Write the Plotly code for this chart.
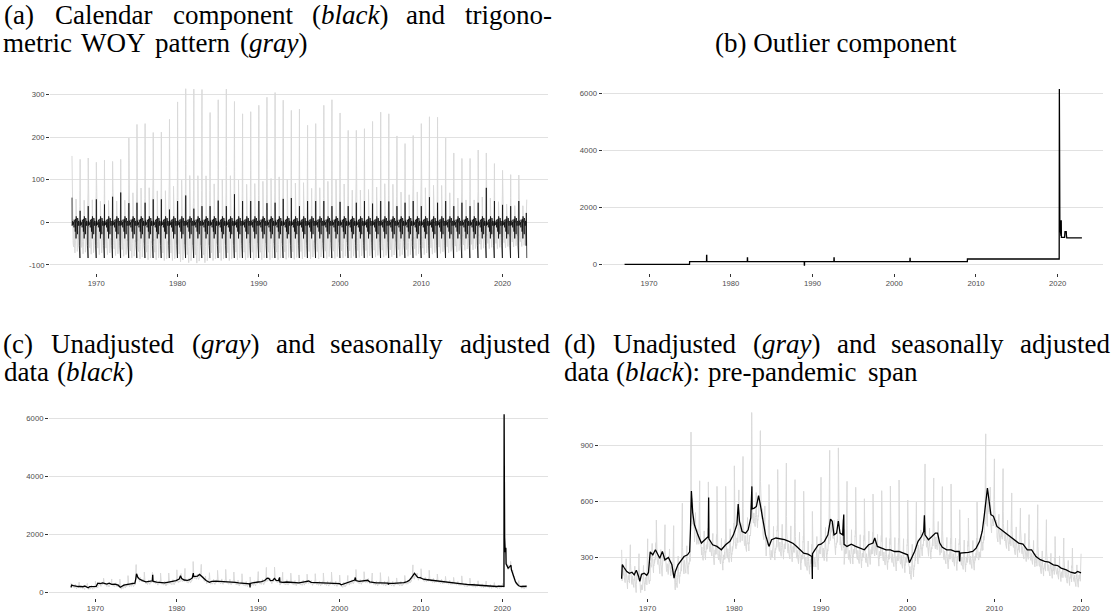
import numpy as np
import plotly.graph_objects as go

W, H = 1115, 613

# ---------------- data ----------------
years = list(range(1967, 2023))

# (a) peak (first week of January) of the trigonometric WOY pattern, per year
woy_peak = [156, 148, 151, 141, 146, 143, 148, 198, 230, 232, 211, 212, 242, 283,
            314, 313, 312, 258, 288, 313, 284, 255, 260, 275, 294, 305, 287, 263,
            266, 228, 232, 275, 288, 257, 216, 216, 220, 237, 259, 255, 203, 185,
            204, 232, 248, 247, 198, 163, 150, 150, 170, 163, 138, 122, 112, 111]
# (a) deepest value of the WOY pattern, per year
woy_trough = [-72, -74, -75, -76, -76, -78, -80, -84, -86, -88, -88, -90, -90, -93,
              -95, -96, -95, -90, -90, -90, -88, -88, -88, -88, -88, -88, -87, -87,
              -86, -86, -86, -85, -85, -84, -84, -83, -83, -82, -82, -81, -80, -80,
              -78, -76, -75, -73, -72, -70, -66, -65, -64, -62, -62, -60, -58, -57]
# (a) typical within-year shape of the WOY pattern (week 1..52, peak = 1, trough = -1)
woy_shape = [1.0, 0.42, 0.12, -0.15, -0.35, -0.5, -0.45, -0.6, -0.7, -0.75, -0.8, -0.72,
             -0.55, -0.1, -0.35, -0.6, -0.75, -0.85, -0.95, -1.0, -0.92, -0.8, -0.6, -0.5,
             -0.4, -0.1, 0.35, 0.22, -0.15, -0.45, -0.62, -0.72, -0.8, -0.88, -0.95, -0.9,
             -0.82, -0.78, -0.7, -0.5, -0.3, -0.5, -0.55, -0.45, -0.35, -0.22, -0.12, 0.02,
             0.08, 0.14, 0.24, 0.48]
# (a) calendar component: New-Year week value per year
cal_jan = [58, 27, 38, 54, 42, 60, 70, 45, 46, 46, 54, 54, 30, 50, 63, 32, 38, 38, 51,
           38, 66, 50, 50, 50, 45, 46, 55, 57, 38, 50, 50, 50, 38, 48, 38, 46, 50, 44,
           50, 49, 38, 46, 50, 38, 59, 46, 50, 38, 46, 38, 46, 81, 50, 41, 38, 50]
# (a) calendar component: other weeks (holiday weeks), week 1 slot unused
cal_week = [0, -8, 4, 0, 0, 3, 0, -6, 0, 0, 0, 0, 0, -12, 6, 0, 0, 0, 0, 0, 0, -22, 8,
            0, 0, 0, -38, 14, 0, 0, 0, 0, 0, 0, 0, -28, 10, 0, 0, 0, 0, -8, 3, 0, 0, -6,
            0, -55, 22, 0, 5, -84]

# (c)/(d) unadjusted claims in the first week of January (thousands)
nsa_jan = [341, 368, 320, 400, 500, 475, 470, 590, 970, 710, 704, 680, 680, 790, 840,
           1075, 978, 690, 770, 805, 716, 654, 546, 729, 873, 886, 707, 675, 614, 639,
           657, 682, 714, 607, 596, 800, 725, 679, 693, 555, 511, 596, 961, 827, 775,
           645, 564, 529, 582, 502, 412, 404, 350, 320, 1080, 420]

# (c)/(d) seasonally adjusted claims (thousands): time, value
sa_time = [1967.0, 1967.08, 1967.3, 1967.6, 1967.9, 1968.2, 1968.45, 1968.7, 1968.95, 1969.1,
           1969.3, 1969.6, 1969.9, 1970.1, 1970.3, 1970.6, 1970.9, 1971.1, 1971.4, 1971.7,
           1972.0, 1972.4, 1972.8, 1973.05, 1973.2, 1973.5, 1973.8, 1974.2, 1974.6, 1974.85,
           1974.95, 1975.05, 1975.2, 1975.4, 1975.8, 1976.2, 1976.6, 1977.0, 1977.04, 1977.07,
           1977.5, 1978.0, 1978.5, 1979.0, 1979.5, 1979.9, 1980.3, 1980.45, 1980.6, 1980.9,
           1981.3, 1981.6, 1981.9, 1982.03, 1982.06, 1982.3, 1982.55, 1982.8, 1983.0, 1983.3,
           1983.6, 1984.0, 1984.3, 1984.8, 1985.3, 1985.8, 1986.3, 1986.8, 1987.2, 1987.6,
           1988.0, 1988.5, 1988.95, 1989.0, 1989.02, 1989.3, 1989.7, 1990.0, 1990.4, 1990.8,
           1991.1, 1991.3, 1991.5, 1991.8, 1992.0, 1992.2, 1992.5, 1992.63, 1992.66, 1993.0,
           1993.5, 1994.0, 1994.5, 1995.0, 1995.5, 1996.0, 1996.2, 1996.5, 1997.0, 1997.5,
           1998.0, 1998.5, 1999.0, 1999.5, 2000.0, 2000.2, 2000.5, 2000.8, 2001.2, 2001.6,
           2001.85, 2001.93, 2002.0, 2002.4, 2002.8, 2003.2, 2003.45, 2003.7, 2004.0, 2004.5,
           2005.0, 2005.5, 2005.95, 2006.0, 2006.05, 2006.6, 2007.0, 2007.5, 2007.9, 2008.3,
           2008.6, 2008.85, 2009.2, 2009.35, 2009.6, 2009.9, 2010.3, 2010.8, 2011.3, 2011.8,
           2012.3, 2012.8, 2013.3, 2013.8, 2014.3, 2014.8, 2015.3, 2015.8, 2016.3, 2016.8,
           2017.3, 2017.7, 2018.3, 2018.8, 2019.3, 2019.6, 2020.0, 2020.19, 2020.21, 2020.23,
           2020.27, 2020.35, 2020.42, 2020.45, 2020.7, 2020.9, 2021.05, 2021.1, 2021.3, 2021.45,
           2021.6, 2021.8, 2022.0, 2022.3, 2022.6, 2022.97]
sa_value = [186, 262, 245, 225, 215, 221, 207, 232, 200, 172,
            210, 216, 205, 220, 330, 314, 341, 323, 296, 332,
            287, 300, 261, 190, 225, 261, 279, 305, 314, 330,
            457, 655, 540, 475, 421, 377, 395, 412, 621, 400,
            368, 359, 341, 368, 386, 421, 475, 585, 493, 439,
            430, 448, 511, 680, 560, 564, 573, 630, 582, 493,
            421, 359, 395, 404, 400, 395, 386, 375, 359, 341,
            323, 318, 305, 185, 320, 341, 368, 371, 386, 421,
            505, 493, 421, 430, 495, 430, 421, 530, 370, 359,
            371, 359, 350, 341, 368, 377, 404, 359, 350, 341,
            341, 332, 332, 323, 314, 272, 300, 332, 386, 412,
            439, 525, 421, 395, 412, 430, 430, 377, 354, 341,
            341, 332, 332, 279, 323, 323, 327, 332, 350, 386,
            439, 529, 671, 618, 529, 520, 466, 448, 430, 412,
            395, 377, 371, 341, 341, 305, 288, 279, 275, 261,
            257, 243, 234, 221, 216, 225, 218, 220, 6150, 3200,
            1900, 1400, 1550, 1000, 850, 900, 950, 800, 600, 450,
            380, 300, 240, 215, 210, 225]

# (b) outlier component: time, value
out_time = [1967.0, 1974.95, 1974.96, 1977.03, 1977.04, 1977.06, 1977.07, 1982.02, 1982.03,
            1982.05, 1982.06, 1988.99, 1989.0, 1989.02, 1989.03, 1992.62, 1992.63, 1992.65,
            1992.66, 2001.92, 2001.93, 2001.95, 2001.96, 2008.95, 2008.96, 2020.19, 2020.21,
            2020.23, 2020.27, 2020.35, 2020.41, 2020.42, 2020.44, 2020.46, 2020.85, 2020.9,
            2021.05, 2021.08, 2021.12, 2022.97]
out_value = [0, 0, 100, 100, 320, 320, 100, 100, 230, 230, 100, 100, -25, -25, 100, 100,
             230, 230, 100, 100, 215, 215, 100, 100, 190, 190, 6150, 2600, 1500, 1150, 1000,
             1530, 1530, 950, 950, 1150, 1150, 1000, 930, 930]

# ---------------- weekly series ----------------
t_week, woy_w, cal_w, nsa_w = [], [], [], []
sa_t = np.array(sa_time)
for i, y in enumerate(years):
    for w in range(52):
        t = y + (w + 0.3) / 52.0
        s = woy_shape[w]
        g = s * woy_peak[i] if s >= 0 else s * (-woy_trough[i])
        c = cal_jan[i] if w == 0 else cal_week[w]
        k = int(np.searchsorted(sa_t, t, side="right")) - 1
        level = sa_value[max(k, 0)]
        t_week.append(t)
        woy_w.append(g)
        cal_w.append(c)
        nsa_w.append(nsa_jan[i] if w == 0 else level + g + c)

t_week = np.array(t_week)
nsa_w = np.array(nsa_w)
pre = t_week <= 2020.02
sa_pre_t = [t for t in sa_time if t <= 2020.02]
sa_pre_v = [v for t, v in zip(sa_time, sa_value) if t <= 2020.02]

# ---------------- layout helpers ----------------
def xd(px):
    return px / W


def yd(py):
    return 1 - py / H


GRAY = "#D9D9D9"
GRID = "#E1E1E1"
TICKFONT = dict(family="Liberation Sans, Arial, sans-serif", size=7.7, color="#4D4D4D")

fig = go.Figure()

# panel a
fig.add_trace(go.Scatter(x=t_week, y=woy_w, mode="lines", line=dict(color=GRAY, width=1),
                         xaxis="x", yaxis="y", hoverinfo="skip"))
fig.add_trace(go.Scatter(x=t_week, y=cal_w, mode="lines", line=dict(color="black", width=0.7),
                         xaxis="x", yaxis="y", hoverinfo="skip"))
# panel b
fig.add_trace(go.Scatter(x=out_time, y=out_value, mode="lines", line=dict(color="black", width=1.3),
                         xaxis="x2", yaxis="y2", hoverinfo="skip"))
# panel c
fig.add_trace(go.Scatter(x=t_week, y=nsa_w, mode="lines", line=dict(color=GRAY, width=1),
                         xaxis="x3", yaxis="y3", hoverinfo="skip"))
fig.add_trace(go.Scatter(x=sa_time, y=sa_value, mode="lines", line=dict(color="black", width=1.3),
                         xaxis="x3", yaxis="y3", hoverinfo="skip"))
# panel d
fig.add_trace(go.Scatter(x=t_week[pre], y=nsa_w[pre], mode="lines", line=dict(color=GRAY, width=1),
                         xaxis="x4", yaxis="y4", hoverinfo="skip"))
fig.add_trace(go.Scatter(x=sa_pre_t, y=sa_pre_v, mode="lines", line=dict(color="black", width=1.3),
                         xaxis="x4", yaxis="y4", hoverinfo="skip"))

xticks = [1970, 1980, 1990, 2000, 2010, 2020]


def xaxis(px0, px1, rng, anchor):
    return dict(domain=[xd(px0), xd(px1)], range=rng, anchor=anchor, showgrid=False,
                zeroline=False, showline=False, ticks="outside", ticklen=3, tickwidth=0.6,
                tickcolor="#333333", tickvals=xticks, ticktext=[str(v) for v in xticks],
                tickfont=TICKFONT, fixedrange=True)


def yaxis(py0, py1, rng, anchor, tv):
    return dict(domain=[yd(py1), yd(py0)], range=rng, anchor=anchor, showgrid=True,
                gridcolor=GRID, gridwidth=1, zeroline=False, showline=False,
                ticks="outside", ticklen=3, tickwidth=0.6, tickcolor="#333333",
                tickvals=tv, ticktext=[str(v) for v in tv], tickfont=TICKFONT, fixedrange=True)


XR = [1964.3, 2025.6]
fig.update_layout(
    xaxis=xaxis(50, 548, XR, "y"),
    yaxis=yaxis(80, 273.8, [-119, 335.1], "x", [-100, 0, 100, 200, 300]),
    xaxis2=xaxis(602.5, 1103.4, XR, "y2"),
    yaxis2=yaxis(80, 273.8, [-297, 6479], "x2", [0, 2000, 4000, 6000]),
    xaxis3=xaxis(49, 548, XR, "y3"),
    yaxis3=yaxis(405.5, 599.7, [-172, 6498], "x3", [0, 2000, 4000, 6000]),
    xaxis4=xaxis(598.9, 1103.4, [1964.38, 2022.58], "y4"),
    yaxis4=yaxis(405.5, 599.7, [84.7, 1119.5], "x4", [300, 600, 900]),
)

# ---------------- captions (word by word, justified like the LaTeX source) ----------------
SERIF = "Liberation Serif, Times New Roman, serif"
FS = 27


def word(txt, cx, cy, anchor="center"):
    fig.add_annotation(text=txt, x=xd(cx), y=yd(cy), xref="paper", yref="paper",
                       xanchor=anchor, yanchor="middle", showarrow=False,
                       font=dict(family=SERIF, size=FS, color="black"))


L1_TOP, L2_TOP = 15.0, 43.3
L1_BOT, L2_BOT = 345.0, 373.3

for txt, cx in [("(a)", 18.6), ("Calendar", 103.2), ("component", 233.3),
                ("(<i>black</i>)", 350.1), ("and", 425.7), ("trigono-", 508.2)]:
    word(txt, cx, L1_TOP)
for txt, cx in [("metric", 37.0), ("WOY", 112.5), ("pattern", 192.0), ("(<i>gray</i>)", 274.0)]:
    word(txt, cx, L2_TOP)
word("(b) Outlier component", 836, L2_TOP)
for txt, cx in [("(c)", 17.9), ("Unadjusted", 112.2), ("(<i>gray</i>)", 225.7), ("and", 295.1),
                ("seasonally", 386.5), ("adjusted", 505.0)]:
    word(txt, cx, L1_BOT)
for txt, cx in [("data", 26.0), ("(<i>black</i>)", 95.0)]:
    word(txt, cx, L2_BOT)
for txt, cx in [("(d)", 579.4), ("Unadjusted", 674.6), ("(<i>gray</i>)", 787.4), ("and", 856.3),
                ("seasonally", 947.1), ("adjusted", 1065.0)]:
    word(txt, cx, L1_BOT)
for txt, cx in [("data", 586.0), ("(<i>black</i>):", 658.0), ("pre-pandemic", 782.0), ("span", 893.0)]:
    word(txt, cx, L2_BOT)

fig.update_layout(width=W, height=H, margin=dict(l=0, r=0, t=0, b=0),
                  paper_bgcolor="white", plot_bgcolor="white", showlegend=False)

fig.write_html("out.html")
